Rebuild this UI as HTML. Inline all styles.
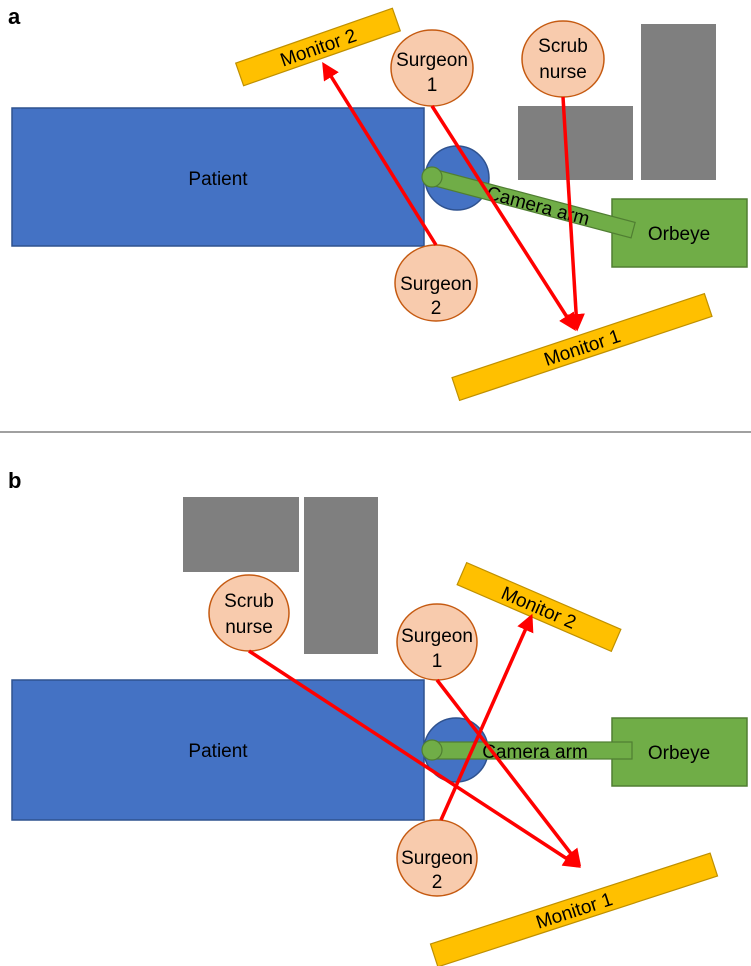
<!DOCTYPE html>
<html><head><meta charset="utf-8"><style>
html,body{margin:0;padding:0;background:#fff;}
svg{display:block;}
text{font-family:"Liberation Sans",Arial,sans-serif;font-size:19px;fill:#000;}
</style></head><body>
<svg width="751" height="966" viewBox="0 0 751 966" xmlns="http://www.w3.org/2000/svg">
<defs>
<marker id="ah" markerWidth="5" markerHeight="5" refX="4" refY="2.5" orient="auto" markerUnits="strokeWidth">
<path d="M0,0 L5,2.5 L0,5 z" fill="#FF0000"/>
</marker>
</defs>
<!-- Panel a -->
<text x="8" y="24" style="font-weight:bold;font-size:22px">a</text>
<rect x="518" y="106" width="115" height="74" fill="#7F7F7F"/>
<rect x="641" y="24" width="75" height="156" fill="#7F7F7F"/>
<rect x="12" y="108" width="412" height="138" fill="#4472C4" stroke="#2F528F" stroke-width="1.5"/>
<text x="218" y="185" text-anchor="middle">Patient</text>
<g transform="translate(318,47) rotate(-19.3)">
<rect x="-83" y="-12" width="166" height="24" fill="#FFC000" stroke="#BF9000" stroke-width="1.2"/>
<text x="0" y="7" text-anchor="middle">Monitor 2</text></g>
<rect x="612" y="199" width="135" height="68" fill="#70AD47" stroke="#507E32" stroke-width="1.5"/>
<text x="679" y="240" text-anchor="middle">Orbeye</text>
<circle cx="457" cy="178" r="32" fill="#4472C4" stroke="#2F528F" stroke-width="1.5"/>
<g transform="translate(432,177) rotate(14.8)">
<rect x="0" y="-8" width="208" height="16" fill="#70AD47" stroke="#507E32" stroke-width="1.2"/>
<text x="110" y="7" text-anchor="middle">Camera arm</text></g>
<circle cx="432" cy="177" r="10" fill="#70AD47" stroke="#507E32" stroke-width="1.2"/>
<g transform="translate(582,347) rotate(-18.4)">
<rect x="-133" y="-12" width="266" height="24" fill="#FFC000" stroke="#BF9000" stroke-width="1.2"/>
<text x="0" y="7" text-anchor="middle">Monitor 1</text></g>
<ellipse cx="432" cy="68" rx="41" ry="38" fill="#F8CBAD" stroke="#C55A11" stroke-width="1.5"/>
<text x="432" y="66" text-anchor="middle">Surgeon</text><text x="432" y="91" text-anchor="middle">1</text>
<ellipse cx="563" cy="59" rx="41" ry="38" fill="#F8CBAD" stroke="#C55A11" stroke-width="1.5"/>
<text x="563" y="52" text-anchor="middle">Scrub</text><text x="563" y="78" text-anchor="middle">nurse</text>
<ellipse cx="436" cy="283" rx="41" ry="38" fill="#F8CBAD" stroke="#C55A11" stroke-width="1.5"/>
<text x="436" y="290" text-anchor="middle">Surgeon</text><text x="436" y="314" text-anchor="middle">2</text>
<line x1="436" y1="245" x2="324" y2="65" stroke="#FF0000" stroke-width="3.5" marker-end="url(#ah)"/>
<line x1="432" y1="106" x2="574" y2="328" stroke="#FF0000" stroke-width="3.5" marker-end="url(#ah)"/>
<line x1="563" y1="97" x2="577" y2="328" stroke="#FF0000" stroke-width="3.5" marker-end="url(#ah)"/>
<line x1="0" y1="432" x2="751" y2="432" stroke="#808080" stroke-width="1.5"/>
<!-- Panel b -->
<text x="8" y="488" style="font-weight:bold;font-size:22px">b</text>
<rect x="183" y="497" width="116" height="75" fill="#7F7F7F"/>
<rect x="304" y="497" width="74" height="157" fill="#7F7F7F"/>
<rect x="12" y="680" width="412" height="140" fill="#4472C4" stroke="#2F528F" stroke-width="1.5"/>
<text x="218" y="757" text-anchor="middle">Patient</text>
<g transform="translate(539,607) rotate(23.4)">
<rect x="-84" y="-12" width="168" height="24" fill="#FFC000" stroke="#BF9000" stroke-width="1.2"/>
<text x="0" y="7" text-anchor="middle">Monitor 2</text></g>
<rect x="612" y="718" width="135" height="68" fill="#70AD47" stroke="#507E32" stroke-width="1.5"/>
<text x="679" y="759" text-anchor="middle">Orbeye</text>
<circle cx="456" cy="750" r="32" fill="#4472C4" stroke="#2F528F" stroke-width="1.5"/>
<rect x="432" y="742" width="200" height="17" fill="#70AD47" stroke="#507E32" stroke-width="1.2"/>
<text x="535" y="758" text-anchor="middle">Camera arm</text>
<circle cx="432" cy="750" r="10" fill="#70AD47" stroke="#507E32" stroke-width="1.2"/>
<g transform="translate(574,910) rotate(-18)">
<rect x="-147" y="-12" width="294" height="24" fill="#FFC000" stroke="#BF9000" stroke-width="1.2"/>
<text x="0" y="7" text-anchor="middle">Monitor 1</text></g>
<ellipse cx="249" cy="613" rx="40" ry="38" fill="#F8CBAD" stroke="#C55A11" stroke-width="1.5"/>
<text x="249" y="607" text-anchor="middle">Scrub</text><text x="249" y="633" text-anchor="middle">nurse</text>
<ellipse cx="437" cy="642" rx="40" ry="38" fill="#F8CBAD" stroke="#C55A11" stroke-width="1.5"/>
<text x="437" y="642" text-anchor="middle">Surgeon</text><text x="437" y="667" text-anchor="middle">1</text>
<ellipse cx="437" cy="858" rx="40" ry="38" fill="#F8CBAD" stroke="#C55A11" stroke-width="1.5"/>
<text x="437" y="864" text-anchor="middle">Surgeon</text><text x="437" y="888" text-anchor="middle">2</text>
<line x1="249" y1="651" x2="578" y2="866" stroke="#FF0000" stroke-width="3.5" marker-end="url(#ah)"/>
<line x1="437" y1="680" x2="579" y2="864" stroke="#FF0000" stroke-width="3.5" marker-end="url(#ah)"/>
<line x1="441" y1="820" x2="531" y2="617" stroke="#FF0000" stroke-width="3.5" marker-end="url(#ah)"/>
</svg>
</body></html>
